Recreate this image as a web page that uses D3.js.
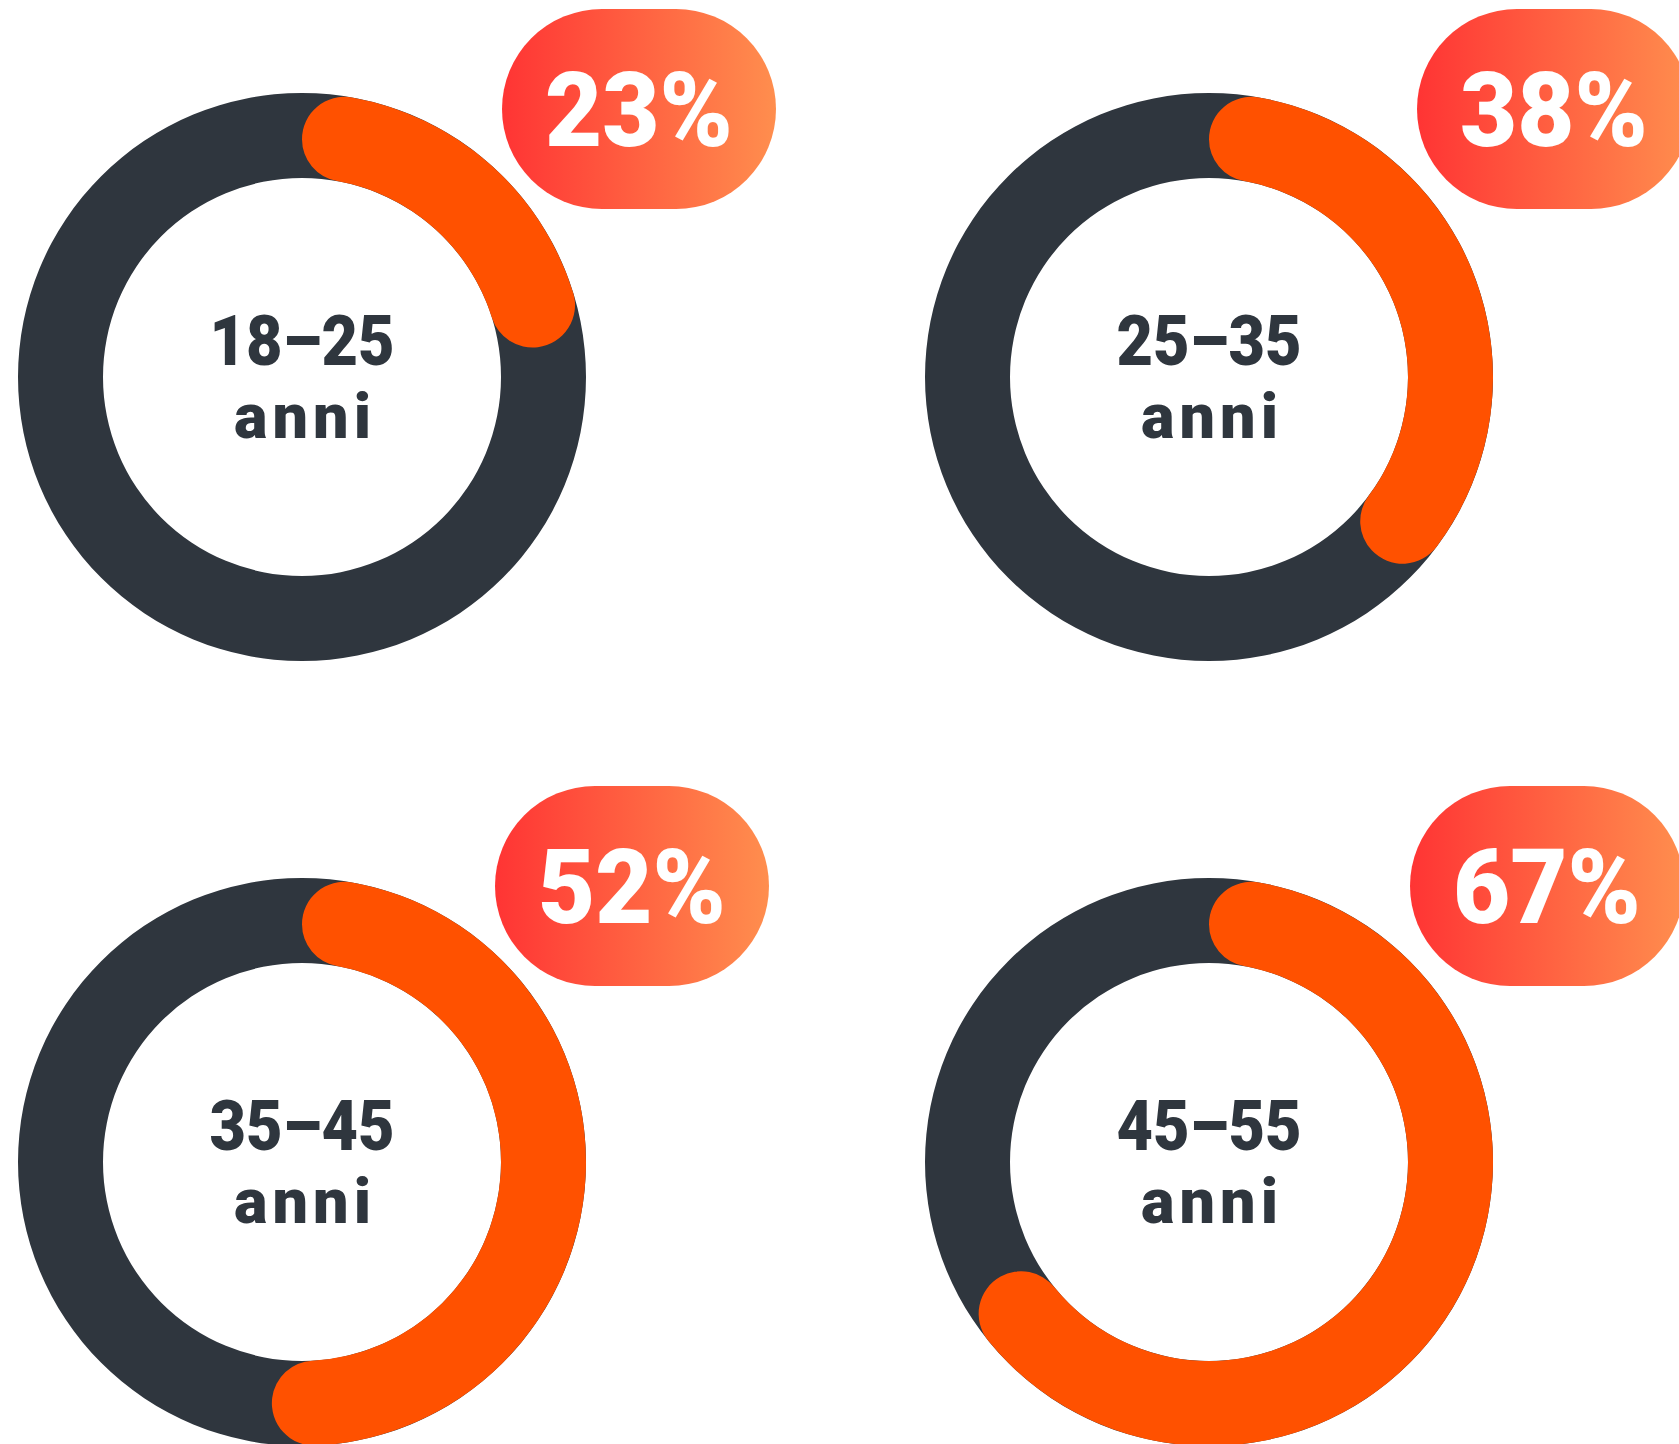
<!DOCTYPE html>
<html>
<head>
<meta charset="utf-8">
<script src="https://cdn.jsdelivr.net/npm/d3@7"></script>
<style>
  html, body { margin: 0; padding: 0; background: #fff; overflow: hidden; }
  text { font-family: "Roboto", "Lato", sans-serif; }
</style>
</head>
<body>
<div id="donuts"></div>
<script>
/* Quota per fascia d'età - quattro anelli con badge percentuale */

const ageGroups = ["18–25", "25–35", "35–45", "45–55"];
const shares = [23, 38, 52, 67]; // percent
const unitLabel = "anni";

const width = 1679,
      height = 1444;

const outerR = 284,
      innerR = 199;

let svg = d3.select("#donuts")
    .append("svg")
    .attr("width", width)
    .attr("height", height)
    .attr("viewBox", [0, 0, width, height]);

// gradient for the badges
let grad = svg.append("defs")
    .append("linearGradient")
    .attr("id", "badge-grad")
    .attr("x1", "0%").attr("x2", "100%")
    .attr("y1", "0%").attr("y2", "0%");
grad.append("stop").attr("offset", "0%").attr("stop-color", "#ff3434");
grad.append("stop").attr("offset", "100%").attr("stop-color", "#ff8e4e");

// 2x2 grid of donut centres
let x = d3.scalePoint().domain([0, 1]).range([302, 1209]);
let y = d3.scalePoint().domain([0, 1]).range([377, 1162]);

let angle = d3.scaleLinear().domain([0, 100]).range([0, 2 * Math.PI]);

let arc = d3.arc()
    .innerRadius(innerR)
    .outerRadius(outerR)
    .cornerRadius((outerR - innerR) / 2); // round ends

let data = ageGroups.map((g, i) => ({ group: g, value: shares[i], col: i % 2, row: Math.floor(i / 2) }));

let panel = svg.selectAll(".panel")
    .data(data)
    .join("g")
    .attr("class", "panel")
    .attr("transform", d => `translate(${x(d.col)},${y(d.row)})`);

// dark track
panel.append("path")
    .attr("fill", "#2f363e")
    .attr("d", d3.arc().innerRadius(innerR).outerRadius(outerR)({ startAngle: 0, endAngle: 2 * Math.PI }));

// orange value arc
panel.append("path")
    .attr("fill", "#ff5100")
    .attr("d", d => arc({ startAngle: 0, endAngle: angle(d.value) }));

// centre labels
panel.append("text")
    .text(d => d.group)
    .attr("text-anchor", "middle")
    .attr("transform", "translate(0,-12) scale(0.9,1)")
    .attr("font-size", 70)
    .attr("font-weight", 900)
    .attr("fill", "#2f363e");

panel.append("text")
    .text(unitLabel)
    .attr("text-anchor", "middle")
    .attr("x", 3)
    .attr("y", 61)
    .attr("font-size", 63)
    .attr("font-weight", 900)
    .attr("letter-spacing", 5)
    .attr("fill", "#2f363e");

// percentage badges (pills top right of each ring)
const badgeW = 274, badgeH = 200;

let badge = panel.append("g")
    .attr("transform", d => `translate(${200 + d.col * 8 - d.row * 7},${-368 - d.row * 8})`);

badge.append("rect")
    .attr("width", badgeW)
    .attr("height", badgeH)
    .attr("rx", badgeH / 2)
    .attr("fill", "url(#badge-grad)");

badge.append("text")
    .text(d => d.value + "%")
    .attr("text-anchor", "middle")
    .attr("transform", `translate(${badgeW / 2},${badgeH / 2 + 37}) scale(0.95,1)`)
    .attr("font-size", 104)
    .attr("font-weight", 900)
    .attr("fill", "#fff");
</script>
</body>
</html>
